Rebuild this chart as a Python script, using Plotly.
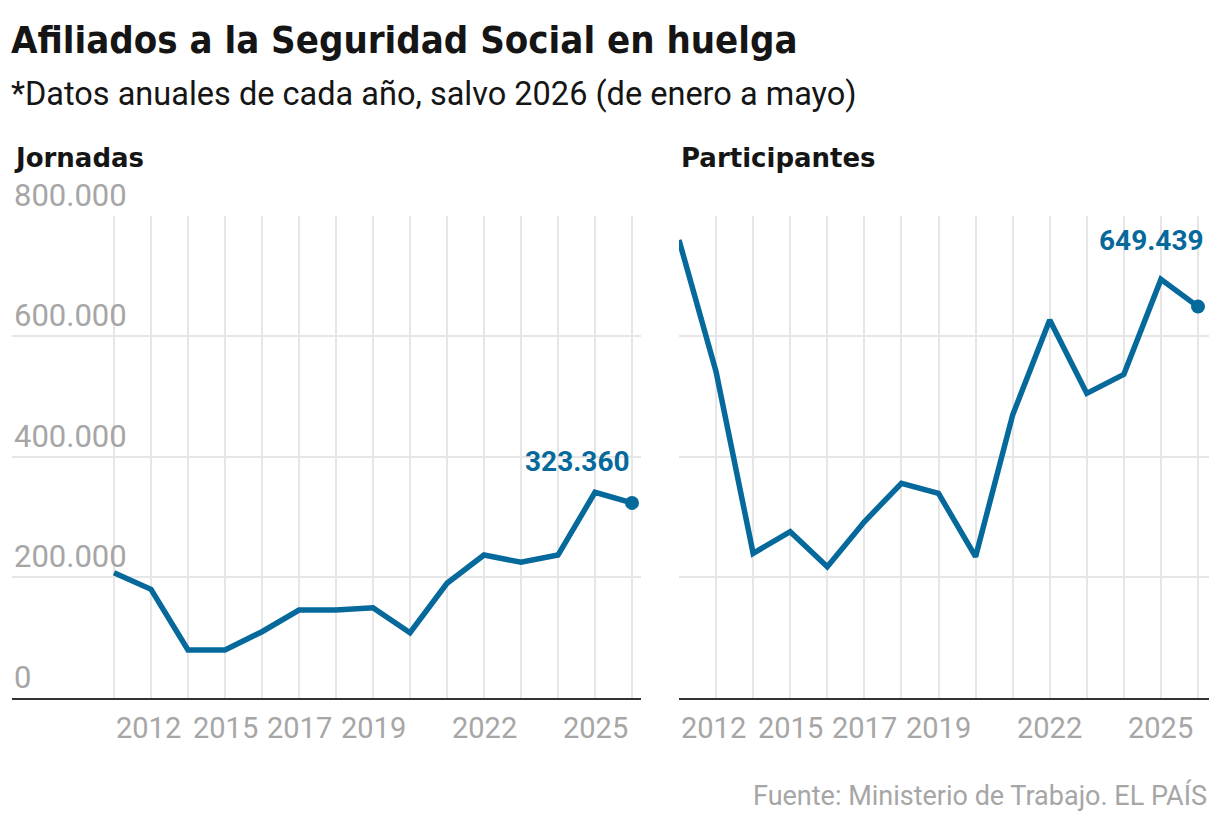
import plotly.graph_objects as go

# ---- data ----
years = list(range(2012, 2027))
jornadas = [207300, 179700, 78900, 78900, 109300, 145300, 145300, 149200,
            107600, 189700, 236700, 224600, 236700, 340900, 323360]
participantes = [760000, 541200, 239500, 275400, 217300, 292000, 355800, 339200,
                 233900, 469300, 627100, 505300, 536900, 694700, 649439]
year_labels = [2012, 2015, 2017, 2019, 2022, 2025]
y_ticks = [0, 200000, 400000, 600000, 800000]

title = "Afiliados a la Seguridad Social en huelga"
subtitle = "*Datos anuales de cada año, salvo 2026 (de enero a mayo)"
panel_titles = ["Jornadas", "Participantes"]
source = "Fuente: Ministerio de Trabajo. EL PAÍS"

# ---- style ----
W, H = 1220, 824
BLUE = "#06699c"
GRID = "#e6e6e6"
GRAY = "#a6a6a6"
DARK = "#151515"
FONT = "Roboto, 'Open Sans', sans-serif"
TFONT = "'DejaVu Sans Condensed', 'DejaVu Sans', sans-serif"
PFONT = "'DejaVu Sans', sans-serif"


def fmt(v):
    return f"{v:,}".replace(",", ".")


fig = go.Figure()
series = [jornadas, participantes]
for i, vals in enumerate(series):
    xa = "x" if i == 0 else "x2"
    ya = "y" if i == 0 else "y2"
    fig.add_trace(go.Scatter(x=years, y=vals, mode="lines", xaxis=xa, yaxis=ya,
                             line=dict(color=BLUE, width=5.5), hoverinfo="skip",
                             showlegend=False))
    fig.add_trace(go.Scatter(x=[years[-1]], y=[vals[-1]], mode="markers", xaxis=xa, yaxis=ya,
                             marker=dict(color=BLUE, size=14), hoverinfo="skip",
                             showlegend=False))

ydom = [(H - 697.5) / H, (H - 216) / H]
common_x = dict(tickvals=years, showticklabels=False, showgrid=True, gridcolor=GRID,
                gridwidth=1.5, zeroline=False, showline=True, linecolor="#333",
                linewidth=2, ticks="", fixedrange=True)
common_y = dict(range=[0, 800000], tickvals=y_ticks, showticklabels=False, showgrid=True,
                gridcolor=GRID, gridwidth=2, zeroline=False, showline=False, ticks="",
                fixedrange=True)

fig.update_layout(
    width=W, height=H,
    margin=dict(l=0, r=0, t=0, b=0),
    paper_bgcolor="white", plot_bgcolor="white",
    xaxis=dict(domain=[12 / W, 641 / W], range=[2012 - 102 / 37, 2026 + 9 / 37], **common_x),
    yaxis=dict(domain=ydom, anchor="x", **common_y),
    xaxis2=dict(domain=[679 / W, 1209 / W], range=[2012, 2026 + 11 / 37.07], anchor="y2", **common_x),
    yaxis2=dict(domain=ydom, anchor="x2", **common_y),
)

ann = []
# title and subtitle
ann.append(dict(text=f"<b>{title}</b>", x=9 / W, y=1 - 16 / H, xref="paper", yref="paper",
                xanchor="left", yanchor="top", showarrow=False,
                font=dict(family=TFONT, size=38, color=DARK)))
ann.append(dict(text=subtitle, x=9 / W, y=1 - 73 / H, xref="paper", yref="paper",
                xanchor="left", yanchor="top", showarrow=False,
                font=dict(family=FONT, size=32.5, color=DARK)))
# panel titles
for px, t in zip([12, 679], panel_titles):
    ann.append(dict(text=f"<b>{t}</b>", x=px / W, y=1 - 141 / H, xref="paper", yref="paper",
                    xanchor="left", yanchor="top", showarrow=False,
                    font=dict(family=PFONT, size=26, color=DARK)))
# y tick labels (left panel only)
for v in y_ticks:
    ann.append(dict(text=fmt(v), x=0, y=v, xref="x domain", yref="y", xanchor="left",
                    yanchor="bottom", xshift=0, yshift=0, showarrow=False,
                    font=dict(family=FONT, size=31, color=GRAY)))
# x tick labels
for xa, ya in [("x", "y"), ("x2", "y2")]:
    for yv in year_labels:
        ann.append(dict(text=str(yv), x=yv, y=0, xref=xa, yref=f"{ya} domain",
                        xanchor="left" if yv == years[0] else "center",
                        yanchor="middle", yshift=-30,
                        showarrow=False, font=dict(family=FONT, size=29, color=GRAY)))
# end value labels
for xa, ya, vals, xs, ys in [("x", "y", jornadas, 0, 23), ("x2", "y2", participantes, 8, 48)]:
    ann.append(dict(text=f"<b>{fmt(vals[-1])}</b>", x=years[-1], y=vals[-1], xref=xa, yref=ya,
                    xanchor="right", yanchor="bottom", xshift=xs, yshift=ys, showarrow=False,
                    font=dict(family=FONT, size=28, color=BLUE)))
# source
ann.append(dict(text=source, x=1209 / W, y=1 - 795 / H, xref="paper", yref="paper",
                xanchor="right", yanchor="middle", showarrow=False,
                font=dict(family=FONT, size=27, color=GRAY)))

fig.update_layout(annotations=ann)
fig.write_html("out.html")
